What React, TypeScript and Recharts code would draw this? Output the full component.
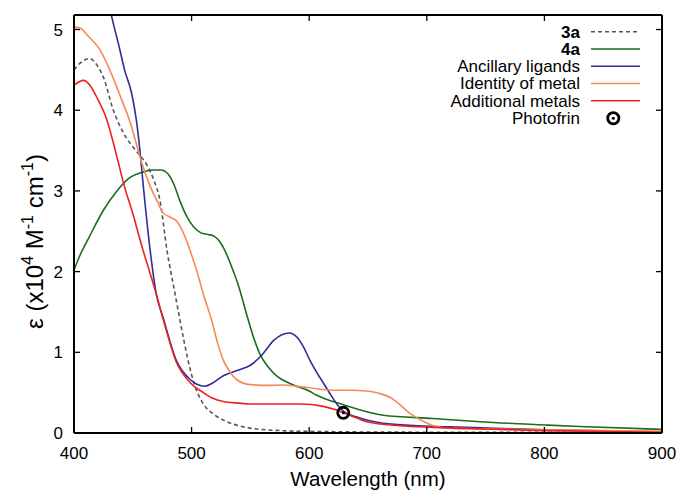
import React from 'react';
import { ComposedChart, Line, Scatter, XAxis, YAxis, Legend } from 'recharts';

const FONT = '"Liberation Sans", Arial, Helvetica, sans-serif';

const xTicks = [400, 500, 600, 700, 800, 900];
const yTicks = [0, 1, 2, 3, 4, 5];

// 3a (dashed grey)
const wl3a = [400, 405, 413, 420, 425, 433, 442, 452, 462, 468, 473, 479, 486, 493, 500, 505, 510, 520, 527, 540, 550, 575, 600, 700, 900];
const eps3a = [4.5, 4.58, 4.64, 4.55, 4.41, 4.02, 3.72, 3.51, 3.32, 3.13, 2.89, 2.27, 1.72, 1.18, 0.72, 0.5, 0.36, 0.22, 0.16, 0.09, 0.06, 0.03, 0.02, 0.01, 0.01];

// 4a (green)
const wl4a = [400, 405, 413, 425, 436, 448, 458, 466, 474, 480, 485, 490, 496, 502, 508, 514, 519, 524, 529, 534, 540, 547, 553, 558, 565, 572, 584, 600, 606, 629, 663, 705, 745, 800, 830, 900];
const eps4a = [2.02, 2.2, 2.43, 2.76, 2.99, 3.17, 3.23, 3.26, 3.26, 3.21, 3.08, 2.88, 2.68, 2.55, 2.48, 2.46, 2.44, 2.37, 2.24, 2.06, 1.82, 1.46, 1.17, 0.98, 0.82, 0.71, 0.61, 0.52, 0.47, 0.35, 0.22, 0.18, 0.14, 0.1, 0.08, 0.045];

// Ancillary ligands (blue)
const wlAnc = [420, 430, 439, 443, 449, 453, 456, 459, 461, 464.7, 470, 476, 487, 499, 505, 511, 518, 527, 540, 550, 560, 570, 583, 590, 595, 600, 606, 612, 618, 624, 629, 640, 663, 692, 734, 800, 900];
const epsAnc = [6.2, 5.3, 4.75, 4.5, 4.21, 3.88, 3.51, 3.05, 2.76, 2.27, 1.72, 1.42, 0.9, 0.66, 0.6, 0.58, 0.62, 0.71, 0.78, 0.84, 0.97, 1.15, 1.24, 1.18, 1.07, 0.92, 0.76, 0.62, 0.48, 0.35, 0.27, 0.2, 0.12, 0.09, 0.07, 0.04, 0.015];

// Identity of metal (orange)
const wlId = [400, 405, 412, 422, 433, 440, 448, 457.6, 465, 471.5, 475, 481, 487, 493, 499, 505, 510, 517, 522, 527, 533, 538.5, 550, 565, 578, 600, 620, 635, 649, 660, 669, 678, 686, 695, 705.5, 720, 800, 900];
const epsId = [5.03, 5.02, 4.92, 4.75, 4.41, 4.15, 3.84, 3.35, 3.05, 2.85, 2.74, 2.68, 2.63, 2.48, 2.25, 1.98, 1.72, 1.4, 1.12, 0.9, 0.75, 0.66, 0.6, 0.59, 0.595, 0.56, 0.53, 0.53, 0.52, 0.49, 0.44, 0.34, 0.24, 0.16, 0.09, 0.06, 0.04, 0.02];

// Additional metals (red)
const wlAdd = [400, 408, 414, 419, 428, 436, 443, 450, 458, 464.7, 470, 476, 487, 499, 510, 518, 527, 540, 550, 592, 612, 622, 629, 640, 649, 677, 705, 750, 800, 900];
const epsAdd = [4.31, 4.37, 4.3, 4.17, 3.88, 3.45, 3.05, 2.72, 2.3, 1.98, 1.72, 1.4, 0.88, 0.62, 0.5, 0.43, 0.39, 0.37, 0.36, 0.36, 0.33, 0.29, 0.25, 0.19, 0.14, 0.09, 0.07, 0.05, 0.03, 0.01];

// Photofrin point
const wlPhoto = [629];
const epsPhoto = [0.25];

const toPts = (xs: number[], ys: number[]) => xs.map((x, i) => ({ x, y: ys[i] }));

const series = [
  { name: '3a', color: '#555555', dash: '4 3', bold: true, data: toPts(wl3a, eps3a) },
  { name: '4a', color: '#1b6e1b', dash: undefined, bold: true, data: toPts(wl4a, eps4a) },
  { name: 'Ancillary ligands', color: '#2e2e98', dash: undefined, bold: false, data: toPts(wlAnc, epsAnc) },
  { name: 'Identity of metal', color: '#f5895a', dash: undefined, bold: false, data: toPts(wlId, epsId) },
  { name: 'Additional metals', color: '#ee2020', dash: undefined, bold: false, data: toPts(wlAdd, epsAdd) },
];
const photoData = toPts(wlPhoto, epsPhoto);

const PhotoMarker = (props: any) => {
  const { cx, cy } = props;
  if (cx == null || cy == null) return null;
  return (
    <g>
      <circle cx={cx} cy={cy} r={5.6} fill="none" stroke="#000" strokeWidth={2.8} />
      <circle cx={cx} cy={cy} r={1.5} fill="#000" />
    </g>
  );
};

const EmptyTick = () => <g />;

const LegendBox = () => {
  const rowsY = [21.7, 39, 56.3, 73.5, 90.8, 108.3];
  return (
    <svg width={260} height={120} style={{ display: 'block', fontFamily: FONT }}>
      {series.map((s, i) => (
        <g key={s.name}>
          <text x={180} y={rowsY[i]} dy="0.35em" textAnchor="end" fontSize={17} fontWeight={s.bold ? 'bold' : 'normal'} fill="#000">
            {s.name}
          </text>
          <line x1={191} x2={240} y1={rowsY[i]} y2={rowsY[i]} stroke={s.color} strokeWidth={1.6} strokeDasharray={s.dash} />
        </g>
      ))}
      <text x={180} y={rowsY[5]} dy="0.35em" textAnchor="end" fontSize={17} fill="#000">Photofrin</text>
      <circle cx={213.3} cy={rowsY[5]} r={5.6} fill="none" stroke="#000" strokeWidth={2.8} />
      <circle cx={213.3} cy={rowsY[5]} r={1.5} fill="#000" />
    </svg>
  );
};

const XLabel = (props: any) => {
  const vb = props.viewBox || {};
  return (
    <text x={vb.x + vb.width / 2} y={vb.y + 53} textAnchor="middle" fontSize={20.5} fill="#000" fontFamily={FONT}>
      Wavelength (nm)
    </text>
  );
};

const YLabel = () => {
  const cx = 43;
  const cy = 241.5;
  return (
    <text x={cx} y={cy} textAnchor="middle" fontSize={24} fill="#000" fontFamily={FONT} transform={`rotate(-90, ${cx}, ${cy})`}>
      ε (x10<tspan dy={-10} fontSize={16}>4</tspan><tspan dy={10}> M</tspan><tspan dy={-10} fontSize={16}>-1</tspan><tspan dy={10}> cm</tspan><tspan dy={-10} fontSize={16}>-1</tspan><tspan dy={10}>)</tspan>
    </text>
  );
};

export default function App() {
  const axisStroke = { stroke: '#000', strokeWidth: 2 };
  const tickLineStyle = { stroke: '#000', strokeWidth: 1.3 };
  return (
    <div style={{ position: 'absolute', left: 0, top: 0, width: 681, height: 491, background: '#fff' }}>
      <ComposedChart width={681} height={491} margin={{ top: 15, right: 19, left: 24, bottom: 0 }} style={{ fontFamily: FONT }}>
        <XAxis xAxisId="b" dataKey="x" type="number" domain={[400, 900]} ticks={xTicks} allowDataOverflow
          tickLine={false} axisLine={axisStroke} tick={{ fill: '#000', fontSize: 17 }} tickSize={6} tickMargin={8} height={58}
          label={<XLabel />} />
        <XAxis xAxisId="bm" dataKey="x" type="number" domain={[400, 900]} ticks={xTicks} allowDataOverflow
          orientation="bottom" mirror tick={EmptyTick} axisLine={false} tickLine={tickLineStyle} tickSize={6} height={20} />
        <XAxis xAxisId="t" dataKey="x" type="number" domain={[400, 900]} ticks={xTicks} allowDataOverflow
          orientation="top" mirror tick={EmptyTick} axisLine={axisStroke} tickLine={tickLineStyle} tickSize={6} height={20} />
        <YAxis yAxisId="l" dataKey="y" type="number" domain={[0, 5.18]} ticks={yTicks} allowDataOverflow
          tickLine={false} axisLine={axisStroke} tick={{ fill: '#000', fontSize: 17 }} tickSize={6} tickMargin={5} width={50}
          label={<YLabel />} />
        <YAxis yAxisId="lm" dataKey="y" type="number" domain={[0, 5.18]} ticks={yTicks} allowDataOverflow
          orientation="left" mirror tick={EmptyTick} axisLine={false} tickLine={tickLineStyle} tickSize={6} width={20} />
        <YAxis yAxisId="r" dataKey="y" type="number" domain={[0, 5.18]} ticks={yTicks} allowDataOverflow
          orientation="right" mirror tick={EmptyTick} axisLine={axisStroke} tickLine={tickLineStyle} tickSize={6} width={20} />
        {series.map((s) => (
          <Line key={s.name} xAxisId="b" yAxisId="l" data={s.data} dataKey="y" name={s.name} type="monotone"
            stroke={s.color} strokeWidth={1.6} strokeDasharray={s.dash} dot={false} activeDot={false}
            isAnimationActive={false} />
        ))}
        <Scatter xAxisId="b" yAxisId="l" data={photoData} dataKey="y" name="Photofrin" shape={<PhotoMarker />} isAnimationActive={false} />
        <Legend layout="vertical" align="center" verticalAlign="middle"
          wrapperStyle={{ position: 'absolute', left: 400, top: 10, width: 260, height: 120 }}
          content={() => <LegendBox />} />
      </ComposedChart>
    </div>
  );
}
